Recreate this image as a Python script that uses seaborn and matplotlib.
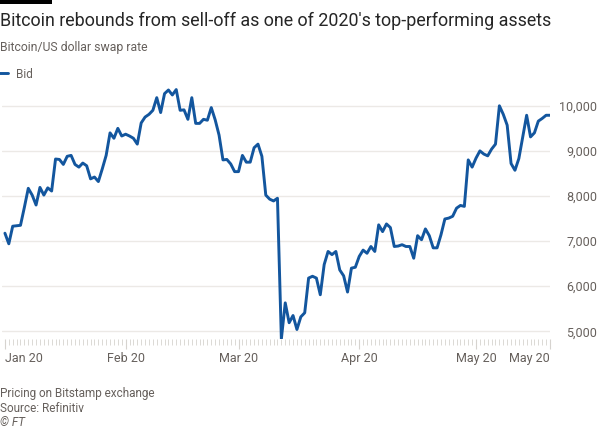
# Bitcoin / US dollar swap rate, FT style line chart
import pandas as pd
import matplotlib.pyplot as plt
import matplotlib.dates as mdates
from matplotlib.patches import Rectangle
import seaborn as sns

sns.set_theme(style="white")
plt.rcParams['font.family'] = ['Roboto', 'DejaVu Sans']

# -----------------------------
# DATA (daily bid)
# -----------------------------
start_date = "2020-01-01"
bid = [
    7175, 6940, 7330, 7340, 7350, 7750, 8170, 8020, 7800, 8190,   # Jan 1-10
    8020, 8180, 8110, 8820, 8810, 8700, 8880, 8900, 8700, 8640,   # Jan 11-20
    8730, 8670, 8380, 8420, 8320, 8600, 8900, 9400, 9280, 9500,   # Jan 21-30
    9330,                                                         # Jan 31
    9370, 9330, 9280, 9150, 9620, 9750, 9810, 9900, 10180, 9850,  # Feb 1-10
    10270, 10350, 10240, 10360, 9900, 9910, 9700, 10180, 9610, 9610,  # Feb 11-20
    9700, 9680, 9960, 9690, 9350, 8800, 8810, 8710, 8540,         # Feb 21-29
    8540, 8900, 8750, 8750, 9070, 9150, 8880, 8020, 7930, 7890,   # Mar 1-10
    7950, 4830, 5630, 5190, 5350, 5040, 5320, 5410, 6180, 6220,   # Mar 11-20
    6180, 5810, 6480, 6770, 6700, 6770, 6360, 6230, 5870, 6400,   # Mar 21-30
    6420,                                                         # Mar 31
    6660, 6800, 6730, 6880, 6770, 7360, 7210, 7380, 7300, 6880,   # Apr 1-10
    6890, 6920, 6880, 6880, 6620, 7120, 7030, 7270, 7120, 6850,   # Apr 11-20
    6850, 7140, 7490, 7510, 7550, 7730, 7790, 7770, 8800, 8640,   # Apr 21-30
    8840, 9000, 8930, 8890, 9040, 9150, 10000, 9810, 9570, 8720,  # May 1-10
    8570, 8830, 9310, 9790, 9310, 9400, 9660, 9720, 9790, 9790,   # May 11-20
]
tick_dates = ["2020-01-01", "2020-02-01", "2020-03-01", "2020-04-01", "2020-05-01", "2020-05-20"]
tick_labels = ["Jan 20", "Feb 20", "Mar 20", "Apr 20", "May 20", "May 20"]
y_ticks = [5000, 6000, 7000, 8000, 9000, 10000]

df = pd.DataFrame({
    "Date": pd.date_range(start_date, periods=len(bid), freq="D"),
    "Bid": bid,
})

# -----------------------------
# COLOURS
# -----------------------------
line_col = "#13569e"
text_col = "#66605c"
grid_col = "#ece9e6"
tick_col = "#d6d3cf"

# -----------------------------
# PLOT
# -----------------------------
W, H = 602, 430
fig = plt.figure(figsize=(W / 100, H / 100), dpi=100)
fig.patch.set_facecolor("white")
ax = fig.add_axes([2 / W, (H - 338.5) / H, 548 / W, 253 / H])

sns.lineplot(data=df, x="Date", y="Bid", ax=ax, color=line_col, linewidth=2.1, label="Bid")

ax.set_xlim(df["Date"].iloc[0] - pd.Timedelta(hours=18), df["Date"].iloc[-1])
ax.set_ylim(4840, 10450)
ax.set_xlabel("")
ax.set_ylabel("")
for s in ax.spines.values():
    s.set_visible(False)

# y axis on the right, right-aligned labels
ax.yaxis.tick_right()
ax.set_yticks(y_ticks)
ax.set_yticklabels([f"{v:,}" for v in y_ticks])
ax.tick_params(axis="y", length=0, pad=34, labelsize=9, labelcolor=text_col)
for lbl in ax.get_yticklabels():
    lbl.set_horizontalalignment("right")
ax.grid(axis="y", color=grid_col, linewidth=1)
ax.grid(axis="x", visible=False)

# x axis: month ticks + daily minor ticks
ax.set_xticks(pd.to_datetime(tick_dates))
ax.set_xticklabels(tick_labels)
ax.xaxis.set_minor_locator(mdates.DayLocator())
ax.tick_params(axis="x", which="major", bottom=True, length=7, width=0.8, color=tick_col,
               pad=3, labelsize=9, labelcolor=text_col)
ax.tick_params(axis="x", which="minor", bottom=True, length=4, width=0.6, color=tick_col)
xl = ax.get_xticklabels()
xl[0].set_horizontalalignment("left")
xl[-1].set_horizontalalignment("right")

# legend at the top left
handles, labels = ax.get_legend_handles_labels()
ax.get_legend().remove()
fig.legend(handles, labels, loc="center left", bbox_to_anchor=(-0.004, 1 - 74 / H),
           frameon=False, fontsize=8.5, labelcolor=text_col, handlelength=0.9,
           handletextpad=0.7, borderpad=0, borderaxespad=0)

# -----------------------------
# TEXTS
# -----------------------------
fig.add_artist(Rectangle((0, 1 - 4 / H), 52 / W, 4 / H, transform=fig.transFigure,
                         color="black", lw=0))
fig.text(0, 1 - 21 / H, "Bitcoin rebounds from sell-off as one of 2020's top-performing assets",
         fontsize=12.9, color="#262626", va="center", ha="left")
fig.text(0, 1 - 48 / H, "Bitcoin/US dollar swap rate", fontsize=8.8, color=text_col,
         va="center", ha="left")
fig.text(0, 1 - 393 / H, "Pricing on Bitstamp exchange", fontsize=8.5, color=text_col, va="center")
fig.text(0, 1 - 408 / H, "Source: Refinitiv", fontsize=8.5, color=text_col, va="center")
fig.text(0, 1 - 422 / H, "© FT", fontsize=8.5, color=text_col, va="center", style="italic")

fig.savefig("out.png", dpi=100)
